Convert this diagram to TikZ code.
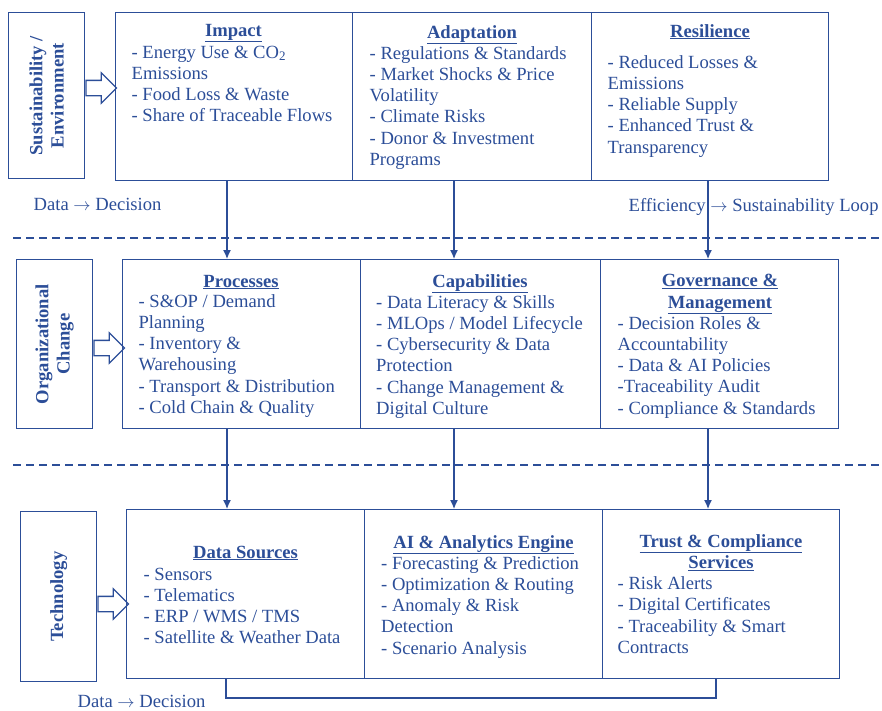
\documentclass[tikz,border=0pt]{standalone}
\usepackage{fontspec}
\setmainfont{Liberation Serif}
\usetikzlibrary{arrows.meta,shapes.arrows}
\definecolor{navy}{RGB}{44,78,152}
\newcommand{\bodysize}{\fontsize{18.6}{21.3}\selectfont}

\begin{document}
\begin{tikzpicture}[x=1pt,y=-1pt,color=navy,line width=1.3pt,
  every node/.style={font=\bodysize},
  cell/.style={draw,anchor=north west,inner sep=0pt},
  head/.style={anchor=base,font=\bodysize\bfseries},
  list/.style={anchor=base west,align=left,inner sep=0pt},
  side/.style={rotate=90,align=center,font=\bodysize\bfseries},
  hollow/.style={single arrow,draw,anchor=west,minimum height=30.5pt,inner sep=7pt,single arrow head extend=7.5pt},
  link/.style={-{Latex[length=9pt,width=8pt]}},
  sep/.style={line width=1.8pt,dash pattern=on 8pt off 5pt}]
\useasboundingbox (0,0) rectangle (882,710);
% Lanes (multi-line nodes sit on the baseline of their last line)
\coordinate (lane1) at (227,0);
\coordinate (lane2) at (454,0);
\coordinate (lane3) at (708,0);
% Sustainability / Environment
\node[cell,minimum width=76pt,minimum height=166pt] (sus) at (8,12) {};
\node[side] at (sus.center) {Sustainability /\\Environment};
\node[cell,minimum width=237pt,minimum height=168pt] (impact) at (115,12) {};
\node[cell,minimum width=239pt,minimum height=168pt] (adapt) at (352,12) {};
\node[cell,minimum width=237pt,minimum height=168pt] (resil) at (591,12) {};
\node[hollow] (h1) at (sus.east |- 0,88) {};
\node[head] at (233.5,36) {\underline{Impact}};
\node[list] at (131,121.9) {- Energy Use \& CO\textsubscript{2}\\Emissions\\- Food Loss \& Waste\\- Share of Traceable Flows};
\node[head] at (472,38) {\underline{Adaptation}};
\node[list] at (369,165.5) {- Regulations \& Standards\\- Market Shocks \& Price\\Volatility\\- Climate Risks\\- Donor \& Investment\\Programs};
\node[head] at (710,37) {\underline{Resilience}};
\node[list] at (607,153.2) {- Reduced Losses \&\\Emissions\\- Reliable Supply\\- Enhanced Trust \&\\Transparency};
% Labels
\node[anchor=base west,inner sep=0pt] (dd1) at (33,210) {Data $\rightarrow$ Decision};
\node[anchor=base west,inner sep=0pt] (esl) at (628,211) {Efficiency $\rightarrow$ Sustainability Loop};
\draw[sep] (13,238) -- (880,238);
% Organizational Change
\node[cell,minimum width=76pt,minimum height=169pt] (org) at (16,259) {};
\node[side] at (org.center) {Organizational\\Change};
\node[cell,minimum width=238pt,minimum height=169pt] (proc) at (122,259) {};
\node[cell,minimum width=240pt,minimum height=169pt] (cap) at (360,259) {};
\node[cell,minimum width=238pt,minimum height=169pt] (gov) at (600,259) {};
\node[hollow] (h2) at (org.east |- 0,348) {};
\node[head] at (241,287) {\underline{Processes}};
\node[list] at (138,413.5) {- S\&OP / Demand\\Planning\\- Inventory \&\\Warehousing\\- Transport \& Distribution\\- Cold Chain \& Quality};
\node[head] at (480,287) {\underline{Capabilities}};
\node[list] at (375.5,414.5) {- Data Literacy \& Skills\\- MLOps / Model Lifecycle\\- Cybersecurity \& Data\\Protection\\- Change Management \&\\Digital Culture};
\node[head,align=center] at (720,308) {\underline{Governance \&}\\\underline{Management}};
\node[list] at (617,414.2) {- Decision Roles \&\\Accountability\\- Data \& AI Policies\\-Traceability Audit\\- Compliance \& Standards};
\draw[link] (impact.south -| lane1) -- (proc.north -| lane1);
\draw[link] (adapt.south -| lane2) -- (cap.north -| lane2);
\draw[link] (resil.south -| lane3) -- (gov.north -| lane3);
\draw[sep] (13,465) -- (880,465);
% Technology
\node[cell,minimum width=76pt,minimum height=170pt] (tech) at (20,511) {};
\node[side] at (tech.center) {Technology};
\node[cell,minimum width=238pt,minimum height=169pt] (dsrc) at (126,509) {};
\node[cell,minimum width=238pt,minimum height=169pt] (ai) at (364,509) {};
\node[cell,minimum width=237pt,minimum height=169pt] (trust) at (602,509) {};
\node[hollow] (h3) at (tech.east |- 0,604) {};
\node[head] at (245.5,558) {\underline{Data Sources}};
\node[list] at (143,643.9) {- Sensors\\- Telematics\\- ERP / WMS / TMS\\- Satellite \& Weather Data};
\node[head] at (483.5,548) {\underline{AI \& Analytics Engine}};
\node[list] at (380.5,654.2) {- Forecasting \& Prediction\\- Optimization \& Routing\\- Anomaly \& Risk\\Detection\\- Scenario Analysis};
\node[head,align=center] at (721,568.5) {\underline{Trust \& Compliance}\\\underline{Services}};
\node[list] at (617,653.4) {- Risk Alerts\\- Digital Certificates\\- Traceability \& Smart\\Contracts};
\draw[link] (proc.south -| lane1) -- (dsrc.north -| lane1);
\draw[link] (cap.south -| lane2) -- (ai.north -| lane2);
\draw[link] (gov.south -| lane3) -- (trust.north -| lane3);
% Loop back
\coordinate (loopL) at (226,698);
\coordinate (loopR) at (716,698);
\draw (dsrc.south -| loopL) -- (loopL) -- (loopR) -- (trust.south -| loopR);
\node[anchor=base west,inner sep=0pt] (dd2) at (77,707) {Data $\rightarrow$ Decision};
\end{tikzpicture}
\end{document}
